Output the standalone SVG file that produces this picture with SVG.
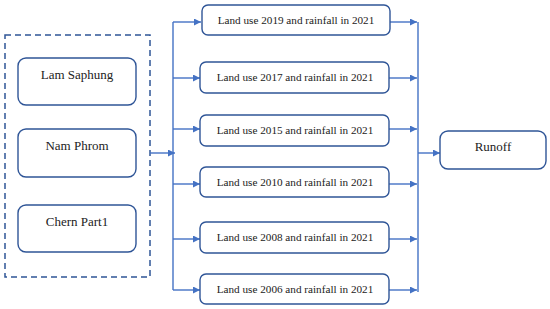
<svg xmlns="http://www.w3.org/2000/svg" width="550" height="309" viewBox="0 0 550 309">
<style>
.box{fill:#fff;stroke:#2F5597;stroke-width:1.4}
.ln{fill:none;stroke:#4472C4;stroke-width:1.4}
.t{fill:#222;text-anchor:middle}
.s{font-size:11.2px}
.b{font-size:13px}
</style>
<defs>
<marker id="ah" viewBox="0 0 10 10" refX="10" refY="5" markerWidth="7" markerHeight="7" markerUnits="userSpaceOnUse" orient="auto">
<path d="M0,0 L10,5 L0,10 z" fill="#4472C4"/>
</marker>
</defs>
<rect x="0" y="0" width="550" height="309" fill="#fff"/>
<g font-family="'Liberation Serif', 'Times New Roman', serif">
<g id="group-box">
<rect x="5" y="35" width="145" height="242" fill="none" stroke="#2F5597" stroke-width="1.5" stroke-dasharray="6,4"/>
</g>
<g id="lam-saphung"><rect class="box" x="18" y="58" width="118" height="47" rx="8"/><text class="t b" x="77" y="79">Lam Saphung</text></g>
<g id="nam-phrom"><rect class="box" x="18" y="129" width="118" height="48" rx="8"/><text class="t b" x="77" y="150">Nam Phrom</text></g>
<g id="chern-part1"><rect class="box" x="18" y="205" width="118" height="47" rx="8"/><text class="t b" x="77" y="226">Chern Part1</text></g>
<g id="connectors">
<line class="ln" x1="150" y1="153" x2="175" y2="153" marker-end="url(#ah)"/>
<line class="ln" x1="173" y1="22" x2="173" y2="290"/>
<line class="ln" x1="173" y1="22" x2="201" y2="22" marker-end="url(#ah)"/>
<line class="ln" x1="173" y1="78" x2="200" y2="78" marker-end="url(#ah)"/>
<line class="ln" x1="173" y1="129" x2="200" y2="129" marker-end="url(#ah)"/>
<line class="ln" x1="173" y1="184" x2="200" y2="184" marker-end="url(#ah)"/>
<line class="ln" x1="173" y1="239" x2="200" y2="239" marker-end="url(#ah)"/>
<line class="ln" x1="173" y1="290" x2="200" y2="290" marker-end="url(#ah)"/>
<line class="ln" x1="390" y1="22" x2="417" y2="22" marker-end="url(#ah)"/>
<line class="ln" x1="389" y1="78" x2="417" y2="78" marker-end="url(#ah)"/>
<line class="ln" x1="389" y1="129" x2="417" y2="129" marker-end="url(#ah)"/>
<line class="ln" x1="389" y1="184" x2="417" y2="184" marker-end="url(#ah)"/>
<line class="ln" x1="389" y1="239" x2="417" y2="239" marker-end="url(#ah)"/>
<line class="ln" x1="389" y1="290" x2="417" y2="290" marker-end="url(#ah)"/>
<line class="ln" x1="418" y1="22" x2="418" y2="292"/>
<line class="ln" x1="418" y1="153" x2="440" y2="153" marker-end="url(#ah)"/>
</g>
<g id="lu2019"><rect class="box" x="202" y="5" width="188" height="30" rx="6"/><text class="t s" x="296" y="24">Land use 2019 and rainfall in 2021</text></g>
<g id="lu2017"><rect class="box" x="200" y="62" width="189" height="31" rx="6"/><text class="t s" x="295" y="81">Land use 2017 and rainfall in 2021</text></g>
<g id="lu2015"><rect class="box" x="200" y="115" width="189" height="31" rx="6"/><text class="t s" x="295" y="134">Land use 2015 and rainfall in 2021</text></g>
<g id="lu2010"><rect class="box" x="200" y="167" width="189" height="30" rx="6"/><text class="t s" x="295" y="186">Land use 2010 and rainfall in 2021</text></g>
<g id="lu2008"><rect class="box" x="200" y="222" width="189" height="31" rx="6"/><text class="t s" x="295" y="241">Land use 2008 and rainfall in 2021</text></g>
<g id="lu2006"><rect class="box" x="200" y="274" width="189" height="30" rx="6"/><text class="t s" x="295" y="293">Land use 2006 and rainfall in 2021</text></g>
<g id="runoff"><rect class="box" x="440" y="131" width="106" height="38" rx="8"/><text class="t b" x="493" y="151">Runoff</text></g>
</g>
</svg>
